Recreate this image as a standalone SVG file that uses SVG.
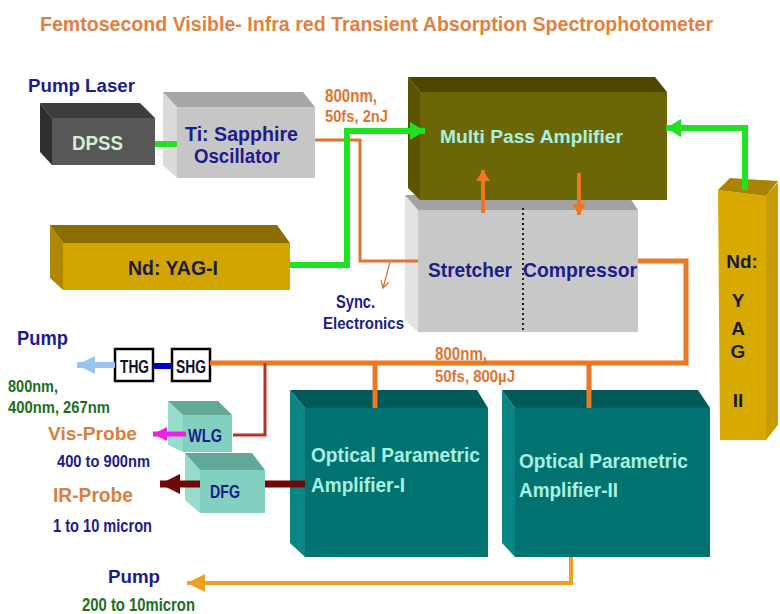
<svg xmlns="http://www.w3.org/2000/svg" width="780" height="614" viewBox="0 0 780 614">
<defs>
<style>
text{font-family:"Liberation Sans",Arial,sans-serif;font-weight:bold;}
.navy{fill:#1C1C8C;}
.dark{fill:#1A1A40;}
.org{fill:#E07432;}
.grn{fill:#1E6E1E;}
.aqua{fill:#A8F0E0;}
.t17{font-size:17px;}
.t18{font-size:18px;}
.t19{font-size:19px;}
.t21{font-size:21px;}
.gline{fill:none;stroke:#22E022;stroke-width:6;}
.oline{fill:none;stroke:#EE7722;stroke-width:5;}
.othin{fill:none;stroke:#E07432;stroke-width:3;}
</style>
<marker id="ahG" markerUnits="userSpaceOnUse" markerWidth="16" markerHeight="20" refX="15" refY="10" orient="auto"><path d="M0,1 L15,10 L0,19 z" fill="#22E022"/></marker>
<marker id="ahO" markerUnits="userSpaceOnUse" markerWidth="12" markerHeight="14" refX="11" refY="7" orient="auto"><path d="M0,0 L11,7 L0,14 z" fill="#EE7722"/></marker>
<marker id="ahB" markerUnits="userSpaceOnUse" markerWidth="19" markerHeight="20" refX="18" refY="10" orient="auto"><path d="M0,1 L18,10 L0,19 z" fill="#98C4F0"/></marker>
<marker id="ahM" markerUnits="userSpaceOnUse" markerWidth="15" markerHeight="16" refX="14" refY="8" orient="auto"><path d="M0,1 L14,8 L0,15 z" fill="#F020E0"/></marker>
<marker id="ahR" markerUnits="userSpaceOnUse" markerWidth="21" markerHeight="22" refX="20" refY="11" orient="auto"><path d="M0,1 L20,11 L0,21 z" fill="#700808"/></marker>
<marker id="ahY" markerUnits="userSpaceOnUse" markerWidth="19" markerHeight="20" refX="18" refY="10" orient="auto"><path d="M0,1 L18,10 L0,19 z" fill="#F0A020"/></marker>
</defs>
<rect width="780" height="614" fill="#FFFFFF"/>

<text x="40" y="31" font-size="21" fill="#E08040" textLength="673" lengthAdjust="spacingAndGlyphs">Femtosecond Visible- Infra red Transient Absorption Spectrophotometer</text>

<text x="28" y="92" class="navy t19" textLength="107" lengthAdjust="spacingAndGlyphs">Pump Laser</text>

<g id="dpss">
<polygon points="40,103 52,118 52,165 40,152" fill="#2F2F2F"/>
<polygon points="40,103 140,103 155,118 52,118" fill="#3C3C3C"/>
<rect x="52" y="118" width="103" height="47" fill="#575757"/>
<text x="72" y="150" class="t21" fill="#D4F0D0" textLength="51" lengthAdjust="spacingAndGlyphs">DPSS</text>
</g>

<g id="oscillator">
<polygon points="163,92 177,107 177,178 163,165" fill="#DADADA"/>
<polygon points="163,92 303,92 315,107 177,107" fill="#A6A6A6"/>
<rect x="177" y="107" width="138" height="71" fill="#C6C6C6"/>
<text x="185" y="141" font-size="20" class="navy" textLength="113" lengthAdjust="spacingAndGlyphs">Ti: Sapphire</text>
<text x="194" y="163" font-size="20" class="navy" textLength="86" lengthAdjust="spacingAndGlyphs">Oscillator</text>
</g>

<g id="stretcher-compressor">
<polygon points="405,195 418,210 418,332 405,320" fill="#E2E2E2"/>
<polygon points="405,195 628,195 638,210 418,210" fill="#A2A2A2"/>
<rect x="418" y="210" width="220" height="122" fill="#C8C8C8"/>
<line x1="523" y1="208" x2="523" y2="330" stroke="#202020" stroke-width="2" stroke-dasharray="2,3"/>
<text x="428" y="277" class="navy t21" textLength="84" lengthAdjust="spacingAndGlyphs">Stretcher</text>
<text x="523" y="277" class="navy t21" textLength="114" lengthAdjust="spacingAndGlyphs">Compressor</text>
</g>

<g id="multipass">
<polygon points="408,77 420,92 420,200 408,188" fill="#5A5500"/>
<polygon points="408,77 655,77 667,92 420,92" fill="#4C4800"/>
<rect x="420" y="92" width="247" height="108" fill="#6C6706"/>
<text x="440" y="143" class="aqua t18" textLength="183" lengthAdjust="spacingAndGlyphs">Multi Pass Amplifier</text>
</g>

<g id="ndyag1">
<polygon points="50,225 63,243 63,290 50,278" fill="#B08800"/>
<polygon points="50,225 277,225 290,243 63,243" fill="#8C6E00"/>
<rect x="63" y="243" width="227" height="47" fill="#D2A400"/>
<text x="128" y="275" class="dark t21" textLength="90" lengthAdjust="spacingAndGlyphs">Nd: YAG-I</text>
</g>

<g id="ndyag2">
<polygon points="718,190 766,196 766,440 720,440" fill="#D8AA00"/>
<polygon points="766,196 778,182 778,425 766,440" fill="#C89C00"/>
<polygon points="718,190 730,178 778,181 766,196" fill="#A88400"/>
<g class="dark t19" text-anchor="middle">
<text x="742" y="268">Nd:</text>
<text x="738" y="307">Y</text>
<text x="738" y="335">A</text>
<text x="738" y="358">G</text>
<text x="738" y="407">II</text>
</g>
</g>

<g id="opa1">
<polygon points="290,390 305,408 305,557 290,543" fill="#088686"/>
<polygon points="290,390 477,390 488,408 305,408" fill="#005A58"/>
<rect x="305" y="408" width="183" height="149" fill="#007370"/>
<text x="311" y="462" class="aqua t21" textLength="169" lengthAdjust="spacingAndGlyphs">Optical Parametric</text>
<text x="311" y="492" class="aqua t21" textLength="94" lengthAdjust="spacingAndGlyphs">Amplifier-I</text>
</g>

<g id="opa2">
<polygon points="502,390 515,408 515,557 502,543" fill="#088686"/>
<polygon points="502,390 698,390 710,408 515,408" fill="#005A58"/>
<rect x="515" y="408" width="195" height="149" fill="#007370"/>
<text x="519" y="468" class="aqua t21" textLength="169" lengthAdjust="spacingAndGlyphs">Optical Parametric</text>
<text x="519" y="497" class="aqua t21" textLength="99" lengthAdjust="spacingAndGlyphs">Amplifier-II</text>
</g>

<g id="wlg">
<polygon points="168,401 183,415 183,452 168,445" fill="#96DCCC"/>
<polygon points="168,401 218,401 232,415 183,415" fill="#62A898"/>
<rect x="183" y="415" width="49" height="37" fill="#82D0C0"/>
<text x="188" y="442" class="navy t19" textLength="34" lengthAdjust="spacingAndGlyphs">WLG</text>
</g>

<g id="dfg">
<polygon points="185,453 200,470 200,513 185,500" fill="#96DCCC"/>
<polygon points="185,453 252,453 265,470 200,470" fill="#62A898"/>
<rect x="200" y="470" width="65" height="43" fill="#82D0C0"/>
<text x="210" y="498" class="navy t19" textLength="30" lengthAdjust="spacingAndGlyphs">DFG</text>
</g>

<g id="thg">
<rect x="115" y="349" width="38" height="32" fill="#FFFFFF" stroke="#000000" stroke-width="2.5"/>
<text x="120" y="373" class="t18" fill="#101030" textLength="29" lengthAdjust="spacingAndGlyphs">THG</text>
</g>
<g id="shg">
<rect x="172" y="349" width="38" height="32" fill="#FFFFFF" stroke="#000000" stroke-width="2.5"/>
<text x="176" y="373" class="t18" fill="#101030" textLength="30" lengthAdjust="spacingAndGlyphs">SHG</text>
</g>

<g id="connectors">
<line x1="155" y1="144" x2="177" y2="144" class="gline"/>
<path d="M315,140 H360 V261 H418" class="othin"/>
<path d="M390,262 L383,288 M388.7,282.2 L383,288 L380.9,280.2" fill="none" stroke="#D07030" stroke-width="1.2"/>
<path d="M290,265 H347 V131 H425" class="gline" marker-end="url(#ahG)"/>
<path d="M745,190 V128 H666" class="gline" marker-end="url(#ahG)"/>
<path d="M483,213 V170" fill="none" stroke="#EE7722" stroke-width="4" marker-end="url(#ahO)"/>
<path d="M579,173 V215" fill="none" stroke="#EE7722" stroke-width="4" marker-end="url(#ahO)"/>
<path d="M638,261 H686 V363 H210" class="oline"/>
<line x1="375" y1="363" x2="375" y2="408" class="oline"/>
<line x1="589" y1="363" x2="589" y2="408" class="oline"/>
<path d="M265,363 V435 H233" fill="none" stroke="#B83020" stroke-width="3"/>
<line x1="153" y1="366" x2="172" y2="366" stroke="#0000C8" stroke-width="6"/>
<path d="M115,365 H77" fill="none" stroke="#98C4F0" stroke-width="6" marker-end="url(#ahB)"/>
<path d="M186,434 H153" fill="none" stroke="#F020E0" stroke-width="5" marker-end="url(#ahM)"/>
<path d="M305,484 H265" fill="none" stroke="#700808" stroke-width="7"/>
<path d="M200,484 H160" fill="none" stroke="#700808" stroke-width="7" marker-end="url(#ahR)"/>
<path d="M571,557 V583 H187" fill="none" stroke="#F0A020" stroke-width="4" marker-end="url(#ahY)"/>
</g>

<text x="325" y="102" class="org t19" textLength="52" lengthAdjust="spacingAndGlyphs">800nm,</text>
<text x="325" y="122" class="org t17" textLength="63" lengthAdjust="spacingAndGlyphs">50fs, 2nJ</text>
<text x="336" y="308" class="navy t18" textLength="39" lengthAdjust="spacingAndGlyphs">Sync.</text>
<text x="323" y="329" class="navy t17" textLength="81" lengthAdjust="spacingAndGlyphs">Electronics</text>
<text x="435" y="360" class="org t18" textLength="52" lengthAdjust="spacingAndGlyphs">800nm,</text>
<text x="435" y="382" class="org t17" textLength="80" lengthAdjust="spacingAndGlyphs">50fs, 800µJ</text>

<text x="17" y="345" class="navy t21" textLength="51" lengthAdjust="spacingAndGlyphs">Pump</text>
<text x="8" y="392" class="grn t17" textLength="50" lengthAdjust="spacingAndGlyphs">800nm,</text>
<text x="8" y="413" class="grn t17" textLength="102" lengthAdjust="spacingAndGlyphs">400nm, 267nm</text>
<text x="48" y="440" class="t19" fill="#D88040" textLength="89" lengthAdjust="spacingAndGlyphs">Vis-Probe</text>
<text x="57" y="467" class="navy t17" textLength="93" lengthAdjust="spacingAndGlyphs">400 to 900nm</text>
<text x="53" y="502" font-size="20" fill="#D88040" textLength="80" lengthAdjust="spacingAndGlyphs">IR-Probe</text>
<text x="53" y="532" class="navy t18" textLength="99" lengthAdjust="spacingAndGlyphs">1 to 10 micron</text>
<text x="108" y="583" class="navy t19" textLength="52" lengthAdjust="spacingAndGlyphs">Pump</text>
<text x="82" y="611" class="grn t18" textLength="113" lengthAdjust="spacingAndGlyphs">200 to 10micron</text>
</svg>
